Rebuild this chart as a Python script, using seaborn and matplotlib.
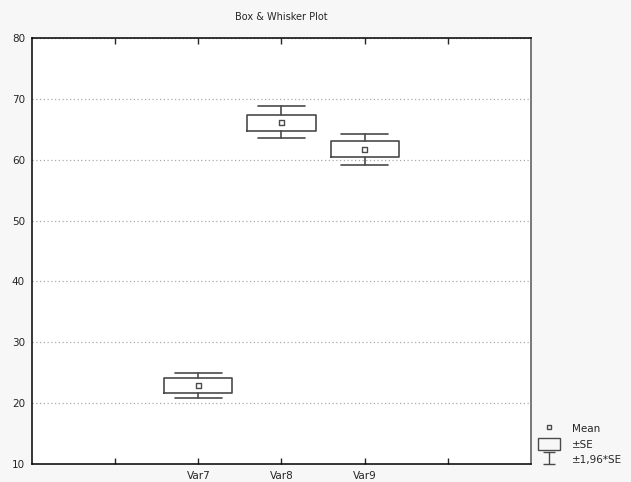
import numpy as np
import pandas as pd
import matplotlib
matplotlib.use('Agg')
import matplotlib.pyplot as plt
from matplotlib.lines import Line2D
from matplotlib.patches import Rectangle
from matplotlib.path import Path
import seaborn as sns

# dados =======================================================================
variaveis = ['Var7', 'Var8', 'Var9']
posicoes = [2, 3, 4]
medias = [22.9, 66.1, 61.7]
se_baixo = [21.6, 64.7, 60.5]     # media - SE
se_alto = [24.1, 67.4, 63.1]      # media + SE
ic_baixo = [20.8, 63.6, 59.1]     # media - 1,96*SE
ic_alto = [24.9, 68.8, 64.3]      # media + 1,96*SE
rotulos_x = ['', 'Var7', 'Var8', 'Var9', '']

df = pd.DataFrame({'var': variaveis, 'pos': posicoes, 'media': medias})

sns.set_style('white')
plt.rcParams['font.family'] = ['DejaVu Sans']

cor = '#4a4a4a'
fig = plt.figure(figsize=(6.31, 4.82), dpi=100, facecolor='#f7f7f7')
ax = fig.add_axes([0.0507, 0.0373, 0.7908, 0.8838])
ax.set_facecolor('white')

stats = []
for v, m, q1, q3, lo, hi in zip(variaveis, medias, se_baixo, se_alto, ic_baixo, ic_alto):
    stats.append({'label': v, 'med': m, 'mean': m, 'q1': q1, 'q3': q3,
                  'whislo': lo, 'whishi': hi, 'fliers': []})

ax.bxp(stats, positions=posicoes, widths=0.82, capwidths=0.56,
       showfliers=False, showmeans=False,
       boxprops=dict(color=cor, linewidth=1.2),
       whiskerprops=dict(color=cor, linewidth=1.2),
       capprops=dict(color=cor, linewidth=1.2),
       medianprops=dict(linewidth=0))

sns.scatterplot(data=df, x='pos', y='media', marker='s', s=16,
                facecolor='none', edgecolor=cor, linewidth=1.0, ax=ax, zorder=5)

ax.set_xlim(0, 6)
ax.set_ylim(10, 80)
ax.set_xticks([1, 2, 3, 4, 5])
ax.set_xticklabels(rotulos_x, fontsize=7.5)
ax.set_yticks(np.arange(10, 81, 10))
ax.tick_params(axis='y', labelsize=7.5, direction='out', length=3, width=1, color='black', pad=2)
ax.tick_params(axis='x', direction='in', length=4, width=1, top=True, bottom=True, pad=5)
ax.set_xlabel('')
ax.set_ylabel('')
ax.yaxis.grid(True, linestyle=(0, (1, 2)), color='#aaaaaa', linewidth=0.9)
ax.xaxis.grid(False)
for lado in ax.spines.values():
    lado.set_color('black')
    lado.set_linewidth(1.1)
ax.spines['right'].set_color('#555555')

ax.set_title('Box & Whisker Plot', fontsize=7, pad=13)

# legenda =====================================================================
caminho = Path([(-1, 1), (1, 1), (0, 1), (0, -1), (-1, -1), (1, -1)],
               [Path.MOVETO, Path.LINETO, Path.MOVETO, Path.LINETO, Path.MOVETO, Path.LINETO])
alcas = [Line2D([], [], marker='s', markersize=3, markerfacecolor='none',
                markeredgecolor=cor, linestyle='none'),
         Rectangle((0, 0), 1, 1, facecolor='none', edgecolor=cor, linewidth=1.0),
         Line2D([], [], marker=caminho, markersize=9, color=cor, linestyle='none',
                markeredgewidth=1.0)]
ax.legend(alcas, ['Mean', '±SE', '±1,96*SE'], loc='lower left',
          bbox_to_anchor=(1.0, -0.02), frameon=False, fontsize=7.5,
          handlelength=2.1, handleheight=1.3, handletextpad=1.1,
          labelspacing=0.4, borderpad=0.2)

fig.savefig('out.png', dpi=100, facecolor=fig.get_facecolor())
